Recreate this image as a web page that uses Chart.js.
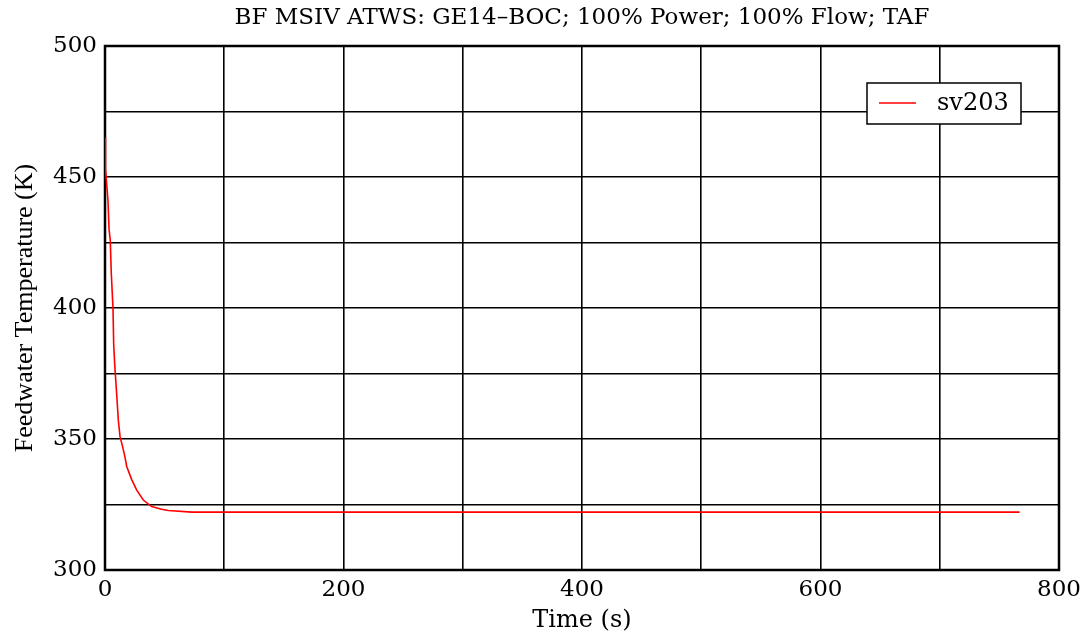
<!DOCTYPE html>
<html>
<head>
<meta charset="utf-8">
<script src="https://cdn.jsdelivr.net/npm/chart.js@4/dist/chart.umd.min.js"></script>
<style>
  body { margin: 0; background: #fff; }
  #wrap { width: 1088px; height: 637px; }
</style>
</head>
<body>
<div id="wrap"><canvas id="fwChart" width="1088" height="637"></canvas></div>
<script>
// feedwater temperature trace, sv203
const timeSec = [0, 0.4, 2.5, 3.4, 4.4, 5.3, 6.7, 7.3, 8.2, 9.8, 11.2, 12.6, 14.8, 16.8, 18.2, 22.4, 26.6, 32.1, 39.1, 47.5, 53.1, 72.7, 767];
const feedwaterTemp = [465, 453, 441, 430, 426, 413, 400, 386, 378, 367, 357, 351, 347, 343, 339.5, 334.5, 330.5, 326.7, 324.2, 323.2, 322.7, 322.1, 322.1];
const xTicks = [0, 200, 400, 600, 800];
const yTicks = [300, 350, 400, 450, 500];
const seriesLabel = 'sv203';
const chartTitle = 'BF MSIV ATWS: GE14\u2013BOC; 100% Power; 100% Flow; TAF';

const points = timeSec.map((t, i) => ({ x: t, y: feedwaterTemp[i] }));

// frame, title and boxed legend drawn on top of the plot
const framePlugin = {
    id: 'frameAndLegend',
    beforeDatasetsDraw(chart) {
        const { ctx, chartArea: a } = chart;
        ctx.save();
        ctx.strokeStyle = '#000';
        ctx.lineWidth = 2.5;
        ctx.strokeRect(a.left, a.top, a.right - a.left, a.bottom - a.top);
        ctx.restore();
    },
    afterDraw(chart) {
        const { ctx, chartArea: a } = chart;
        ctx.save();
        // title centred over the plot
        ctx.fillStyle = '#000';
        ctx.font = '23px "DejaVu Serif"';
        ctx.textAlign = 'center';
        ctx.textBaseline = 'middle';
        ctx.fillText(chartTitle, (a.left + a.right) / 2, 18);

        // legend box
        const ds = chart.data.datasets[0];
        const bx = a.right - 192, by = a.top + 37, bw = 154, bh = 41;
        ctx.fillStyle = '#fff';
        ctx.fillRect(bx, by, bw, bh);
        ctx.strokeStyle = '#000';
        ctx.lineWidth = 1.5;
        ctx.strokeRect(bx, by, bw, bh);
        ctx.strokeStyle = ds.borderColor;
        ctx.lineWidth = 1.5;
        ctx.beginPath();
        ctx.moveTo(bx + 12, by + 20);
        ctx.lineTo(bx + 49, by + 20);
        ctx.stroke();
        ctx.fillStyle = '#000';
        ctx.font = '24px "DejaVu Serif"';
        ctx.textAlign = 'left';
        ctx.fillText(ds.label, bx + 70, by + 21);
        ctx.restore();
    }
};

new Chart(document.getElementById('fwChart'), {
    type: 'line',
    data: {
        datasets: [{
            label: seriesLabel,
            data: points,
            borderColor: '#ff0000',
            borderWidth: 1.6,
            pointRadius: 0,
            tension: 0,
            fill: false
        }]
    },
    options: {
        responsive: false,
        animation: false,
        layout: { padding: { top: 46, right: 29, left: 0, bottom: 0 } },
        plugins: {
            legend: { display: false },
            title: { display: false },
            tooltip: { enabled: false }
        },
        scales: {
            x: {
                type: 'linear',
                min: 0,
                max: 800,
                afterFit: (scale) => { scale.height = 67; },
                grid: { color: '#000', lineWidth: 1.6, drawTicks: false },
                border: { display: false },
                ticks: {
                    stepSize: 100,
                    autoSkip: false,
                    maxRotation: 0,
                    padding: 6,
                    color: '#000',
                    font: { family: 'DejaVu Serif', size: 23 },
                    callback: (v) => xTicks.includes(v) ? v : ''
                },
                title: {
                    display: true,
                    text: 'Time (s)',
                    color: '#000',
                    font: { family: 'DejaVu Serif', size: 24 },
                    padding: { top: 0, bottom: 2 }
                }
            },
            y: {
                min: 300,
                max: 500,
                afterFit: (scale) => { scale.width = 105; },
                grid: { color: '#000', lineWidth: 1.6, drawTicks: false },
                border: { display: false },
                ticks: {
                    stepSize: 25,
                    autoSkip: false,
                    padding: 8,
                    color: '#000',
                    font: { family: 'DejaVu Serif', size: 23 },
                    callback: (v) => yTicks.includes(v) ? v : ''
                },
                title: {
                    display: true,
                    text: 'Feedwater Temperature (K)',
                    color: '#000',
                    font: { family: 'Liberation Serif', size: 26 },
                    padding: { top: 10, bottom: 0 }
                }
            }
        }
    },
    plugins: [framePlugin]
});
</script>
</body>
</html>
